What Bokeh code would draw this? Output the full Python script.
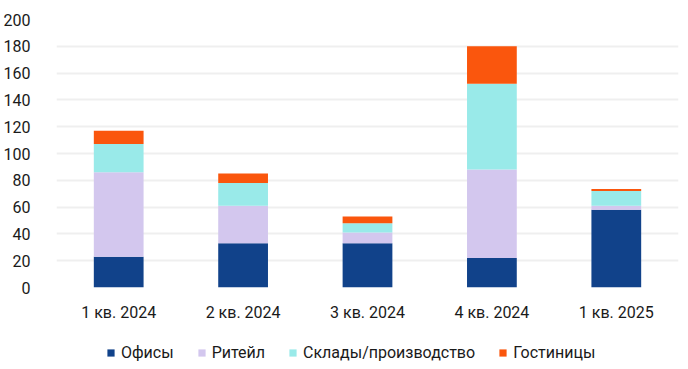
from bokeh.plotting import figure
from bokeh.models import ColumnDataSource, Legend, LegendItem, Range1d, FixedTicker
from bokeh.layouts import column
from bokeh.embed import file_html
from bokeh.resources import INLINE

quarters = ["1 кв. 2024", "2 кв. 2024", "3 кв. 2024", "4 кв. 2024", "1 кв. 2025"]
series = ["Офисы", "Ритейл", "Склады/производство", "Гостиницы"]
offices = [23, 33, 33, 22, 58]
retail = [63, 28, 8, 66, 3]
warehouses = [21, 17, 7, 64, 11]
hotels = [10, 7, 5, 28, 1.5]
colors = ["#11428A", "#D3C7EE", "#99EAE9", "#FA560D"]
y_ticks = [0, 20, 40, 60, 80, 100, 120, 140, 160, 180, 200]

keys = ["s0", "s1", "s2", "s3"]
src = ColumnDataSource(dict(q=quarters, s0=offices, s1=retail, s2=warehouses, s3=hotels))

FONT = "Roboto"
TXT = "#1A1A1A"
p = figure(x_range=quarters, y_range=Range1d(0, 200), width=688, height=325,
           output_backend="svg", toolbar_location=None,
           min_border_left=50, min_border_right=10, min_border_top=19, min_border_bottom=38)
p.vbar_stack(keys, x="q", width=0.4, source=src, color=colors, line_color=None)

p.outline_line_color = None
p.xgrid.grid_line_color = None
p.ygrid.grid_line_color = "#EFEFEF"
p.ygrid.grid_line_width = 2
p.yaxis.ticker = FixedTicker(ticks=y_ticks)
for ax in (p.xaxis[0], p.yaxis[0]):
    ax.axis_line_color = None
    ax.major_tick_line_color = None
    ax.minor_tick_line_color = None
    ax.major_label_text_font = FONT
    ax.major_label_text_font_size = "16px"
    ax.major_label_text_color = TXT
p.yaxis.major_label_standoff = 20
p.xaxis.major_label_standoff = 9

# legend strip
lg = figure(width=688, height=44, x_range=Range1d(0, 1), y_range=Range1d(0, 1),
            output_backend="svg", toolbar_location=None,
            min_border_left=0, min_border_right=0, min_border_top=12, min_border_bottom=0)
lg.axis.visible = False
lg.grid.visible = False
lg.outline_line_color = None
rs = []
for c in colors:
    s = ColumnDataSource(dict(x=[-5], top=[-5]))
    rs.append(lg.vbar(x="x", top="top", bottom=-6, width=0.1, source=s,
                      fill_color=c, line_color=None))
legend = Legend(items=[LegendItem(label=s, renderers=[r]) for s, r in zip(series, rs)],
                orientation="horizontal", location=(50, 7),
                label_text_font=FONT, label_text_font_size="16px",
                label_text_color=TXT, glyph_width=9, glyph_height=9,
                label_standoff=6, spacing=23, border_line_color=None,
                background_fill_alpha=0, margin=0, padding=0)
lg.add_layout(legend)

open("out.html", "w").write(file_html(column(p, lg, spacing=0), INLINE))
